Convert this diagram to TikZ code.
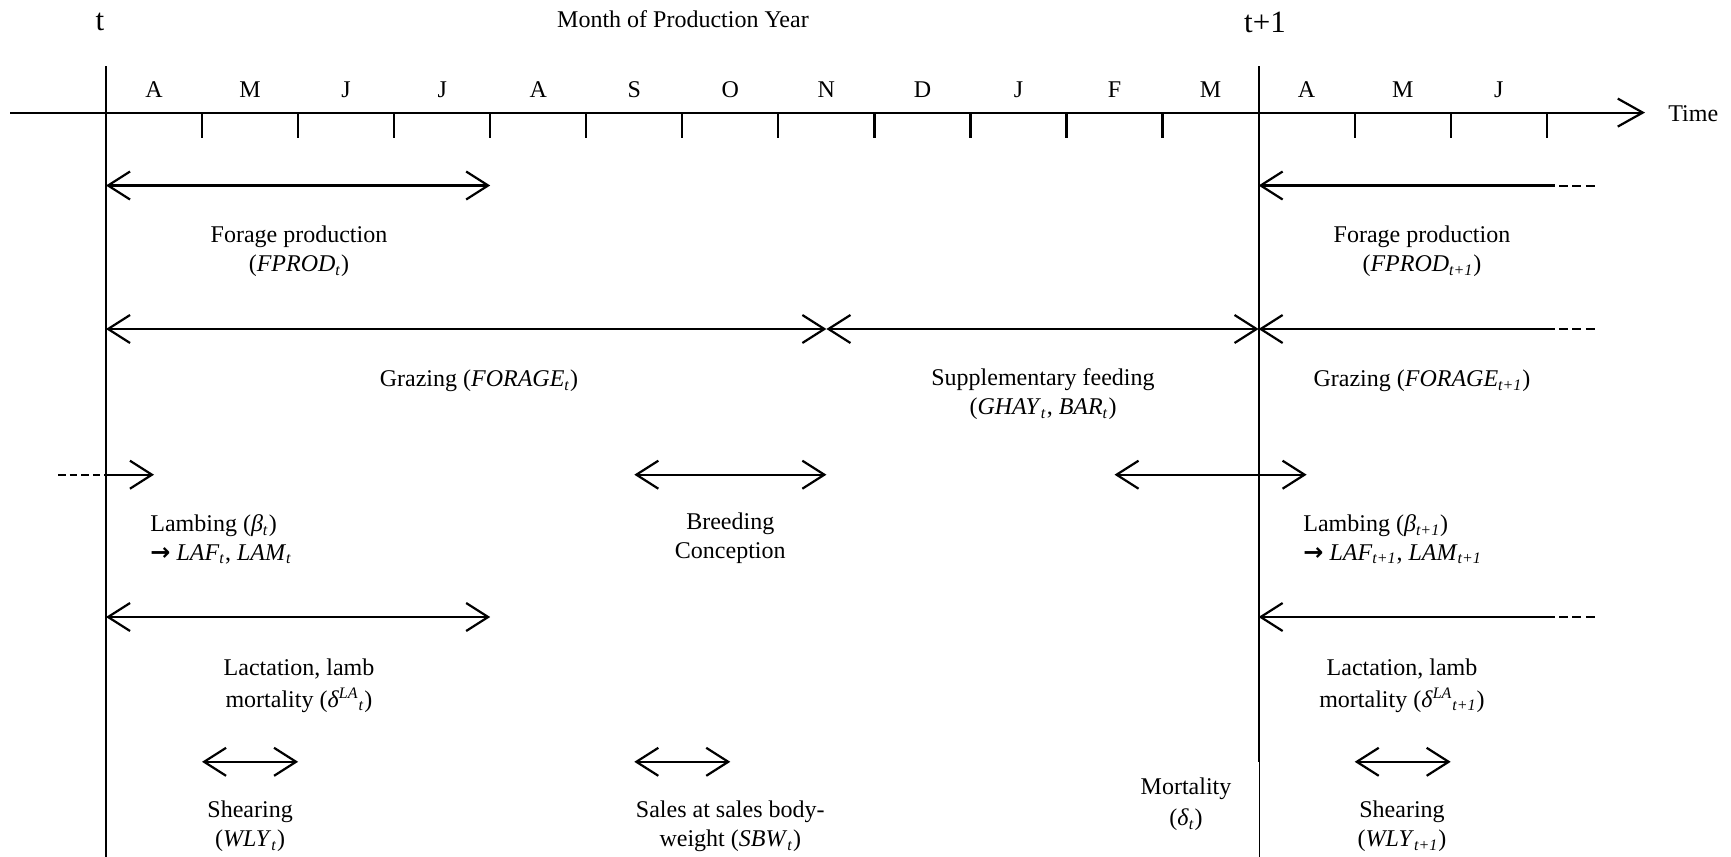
\documentclass[tikz,border=0pt]{standalone}
\usepackage{fontspec}
\setmainfont{Liberation Serif}
\newfontfamily\arrowfont{DejaVu Sans}
\usetikzlibrary{arrows.meta}
\newcommand{\itx}[1]{\textit{#1}}
\newcommand{\sbt}[1]{\textsubscript{\textit{#1}}}
\newcommand{\spt}[1]{\textsuperscript{\textit{#1}}}
\newcommand{\rarr}{{\arrowfont\bfseries →}}
\begin{document}
\begin{tikzpicture}[x=0.5pt,y=-0.5pt,
  every node/.style={font=\fontsize{12pt}{14.4pt}\selectfont, inner sep=0pt, align=center},
  big/.style={font=\fontsize{15.5pt}{18pt}\selectfont},
  ln/.style={line width=1.1pt},
  barb/.tip={Straight Barb[length=11pt,width=14pt]},
  axtip/.tip={Straight Barb[length=12.5pt,width=14pt]},
  both/.style={ln,barb-barb},
  lefttip/.style={ln,barb-},
  righttip/.style={ln,-barb},
  dsh/.style={line width=1pt,dash pattern=on 4.5pt off 2.2pt},
  dshl/.style={line width=1pt,dash pattern=on 3.8pt off 2pt}]
\useasboundingbox (0,0) rectangle (1731,857);

% header texts
\node[big] (t) at (100,22) {t};
\node[big] (t1) at (1265,22) {t+1};
\node (title) at (683,19) {Month of Production Year};

% axis
\coordinate (axL) at (10,112.6);
\coordinate (axR) at (1645,112.6);
\draw[ln,-axtip] (axL) -- (axR);
\node[anchor=west] (time) at (1668,114) {Time};

% period boundaries
\coordinate (vLt) at (106,66);
\coordinate (vLb) at (106,857);
\coordinate (vRt) at (1258.6,66);
\coordinate (vRm) at (1258.6,762);
\coordinate (vRm2) at (1259.6,762);
\coordinate (vRb) at (1259.6,857);
\draw[ln] (vLt) -- (vLb);
\draw[ln] (vRt) -- (vRm);
\draw[line width=0.6pt] (vRm2) -- (vRb);

% ticks
\foreach \i in {1,...,11,13,14,15}{
  \coordinate (tk\i a) at ({106+96.05*\i},112.6);
  \coordinate (tk\i b) at ({106+96.05*\i},138);
  \draw[ln] (tk\i a) -- (tk\i b);
}
% month letters
\foreach \m [count=\i from 0] in {A,M,J,J,A,S,O,N,D,J,F,M,A,M,J}{
  \node (mo\i) at ({106+96.05*(\i+0.5)},89.4) {\m};
}

% row 1: forage production
\coordinate (f1a) at (106,185.5);
\coordinate (f1b) at (490.2,185.5);
\draw[both] (f1a) -- (f1b);
\coordinate (f2a) at (1258.6,185.5);
\coordinate (f2b) at (1555,185.5);
\coordinate (f2d) at (1559,185.5);
\coordinate (f2c) at (1596,185.5);
\draw[lefttip] (f2a) -- (f2b);
\draw[dsh] (f2d) -- (f2c);
\node (fp1) at (299,251.3) {Forage production\\(\itx{FPROD}\sbt{t})};
\node (fp2) at (1422,251.3) {Forage production\\(\itx{FPROD}\sbt{t+1})};

% row 2: grazing
\coordinate (g1a) at (106,329);
\coordinate (g1b) at (826.4,329);
\coordinate (g2b) at (1258.6,329);
\coordinate (g3b) at (1555,329);
\coordinate (g3d) at (1559,329);
\coordinate (g3c) at (1596,329);
\draw[both] (g1a) -- (g1b);
\draw[both] (g1b) -- (g2b);
\draw[lefttip] (g2b) -- (g3b);
\draw[dsh] (g3d) -- (g3c);
\node (gr1) at (479,380.9) {Grazing (\itx{FORAGE}\sbt{t})};
\node (sf) at (1043,394.3) {Supplementary feeding\\(\itx{GHAY}\sbt{t}, \itx{BAR}\sbt{t})};
\node (gr2) at (1422,380.9) {Grazing (\itx{FORAGE}\sbt{t+1})};

% row 3: lambing, breeding
\coordinate (l1a) at (58,474.7);
\coordinate (l1b) at (106,474.7);
\coordinate (l1c) at (154,474.7);
\draw[dshl] (l1a) -- (l1b);
\draw[righttip] (l1b) -- (l1c);
\coordinate (br1) at (634.3,474.7);
\coordinate (br2) at (826.4,474.7);
\draw[both] (br1) -- (br2);
\coordinate (l2a) at (1114.5,474.7);
\coordinate (l2b) at (1306.6,474.7);
\draw[both] (l2a) -- (l2b);
\node[anchor=west,align=left] (lb1) at (150,539.3) {Lambing (\itx{β}\sbt{t})\\\rarr\ \itx{LAF}\sbt{t}, \itx{LAM}\sbt{t}};
\node (bc) at (730.3,538.3) {Breeding\\Conception};
\node[anchor=west,align=left] (lb2) at (1303,539.3) {Lambing (\itx{β}\sbt{t+1})\\\rarr\ \itx{LAF}\sbt{t+1}, \itx{LAM}\sbt{t+1}};

% row 4: lactation
\coordinate (la1a) at (106,617);
\coordinate (la1b) at (490.2,617);
\draw[both] (la1a) -- (la1b);
\coordinate (la2a) at (1258.6,617);
\coordinate (la2b) at (1555,617);
\coordinate (la2d) at (1559,617);
\coordinate (la2c) at (1596,617);
\draw[lefttip] (la2a) -- (la2b);
\draw[dsh] (la2d) -- (la2c);
\node[font=\fontsize{12pt}{16pt}\selectfont] (lac1) at (299,685.3) {Lactation, lamb\\mortality (\itx{δ}\spt{LA}\sbt{t})};
\node[font=\fontsize{12pt}{16pt}\selectfont] (lac2) at (1402,685.3) {Lactation, lamb\\mortality (\itx{δ}\spt{LA}\sbt{t+1})};

% row 5: shearing, sales, mortality
\coordinate (s1a) at (202.05,761.8);
\coordinate (s1b) at (298.1,761.8);
\draw[both] (s1a) -- (s1b);
\coordinate (sa1) at (634.3,761.8);
\coordinate (sa2) at (730.3,761.8);
\draw[both] (sa1) -- (sa2);
\coordinate (s2a) at (1354.7,761.8);
\coordinate (s2b) at (1450.7,761.8);
\draw[both] (s2a) -- (s2b);
\node (sh1) at (250.1,826.3) {Shearing\\(\itx{WLY}\sbt{t})};
\node (sal) at (730.3,826.3) {Sales at sales body-\\weight (\itx{SBW}\sbt{t})};
\node[font=\fontsize{12pt}{15.5pt}\selectfont] (mort) at (1186,804.3) {Mortality\\(\itx{δ}\sbt{t})};
\node (sh2) at (1402,826.3) {Shearing\\(\itx{WLY}\sbt{t+1})};
\end{tikzpicture}
\end{document}
